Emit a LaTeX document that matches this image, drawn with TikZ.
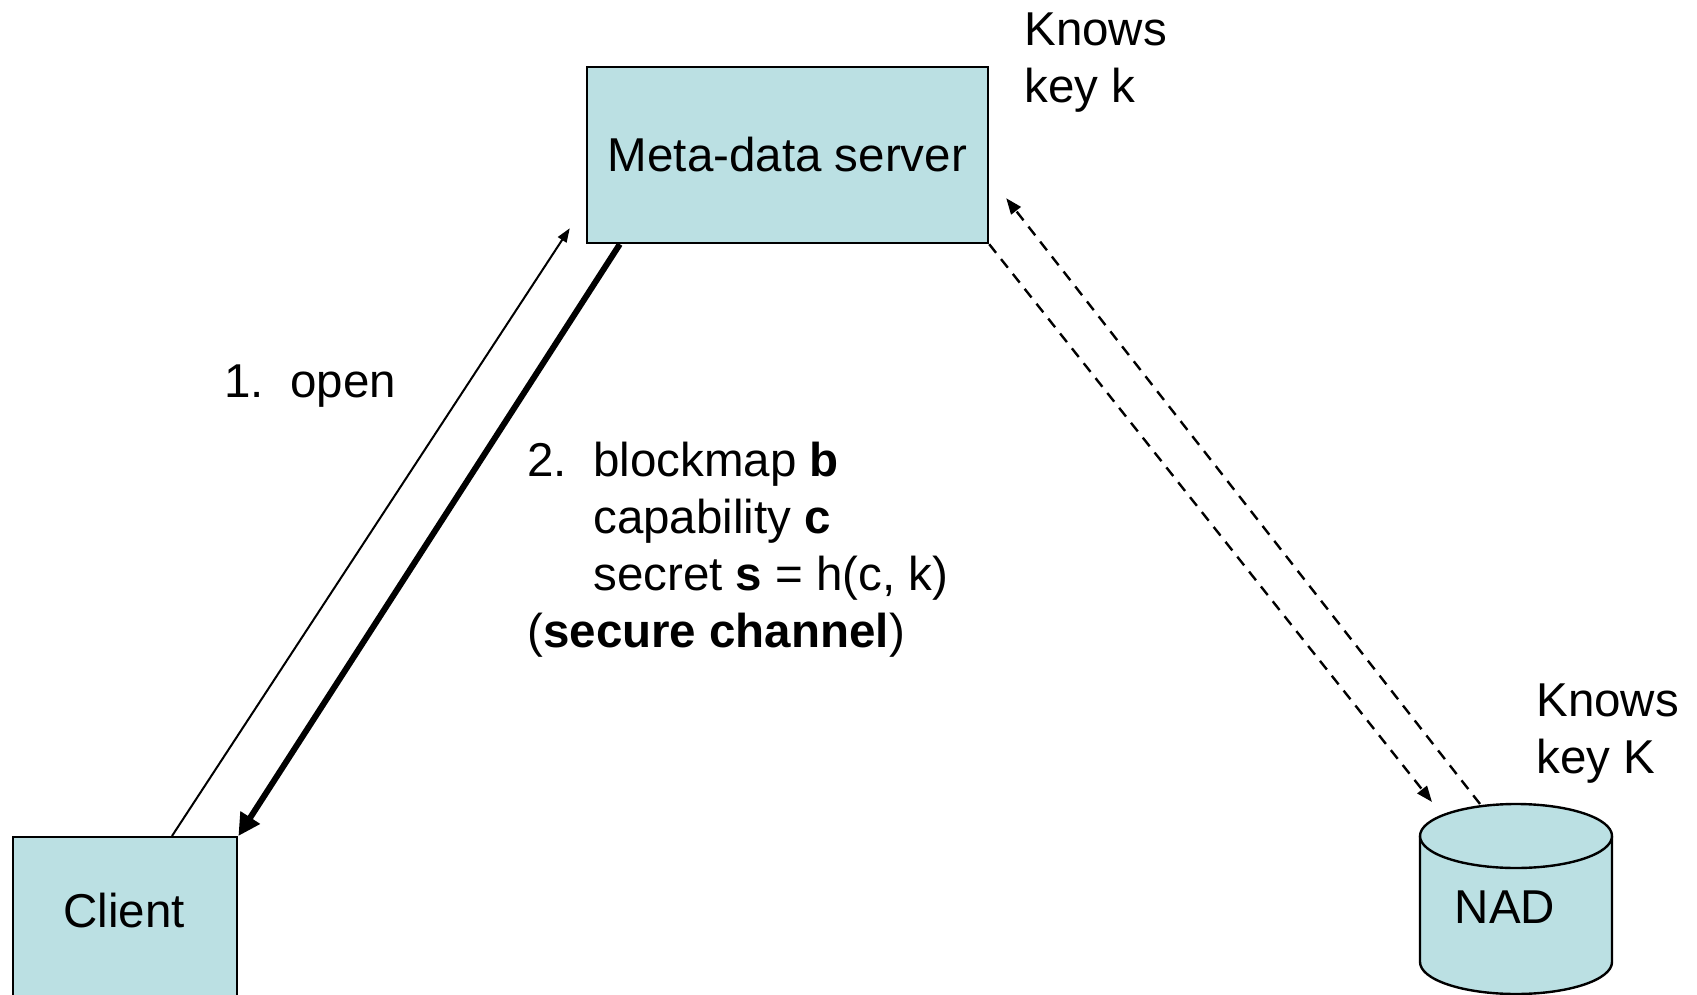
\documentclass[tikz,border=0pt]{standalone}
\usepackage{fontspec}
\setmainfont{Liberation Sans}
\usetikzlibrary{arrows.meta,calc}
\definecolor{boxfill}{RGB}{187,224,227}
\begin{document}
\begin{tikzpicture}[x=0.5pt,y=-0.5pt,
  every node/.style={font=\fontsize{23.75pt}{28.5pt}\selectfont, inner sep=0pt},
  box/.style={draw=black, line width=1.2pt, fill=boxfill},
  txt/.style={anchor=base west, align=left},
  plainarrow/.style={line width=1pt, -{Triangle[length=7pt,width=5pt]}},
  heavyarrow/.style={line width=3pt, -{Triangle[length=11pt,width=11pt]}},
  keyarrow/.style={line width=1.2pt, dash pattern=on 5.5pt off 4pt, -{Triangle[length=8pt,width=6pt]}}]
\path[use as bounding box] (0,0) rectangle (1697,995);
\clip (0,0) rectangle (1697,995);

% boxes
\node[box, minimum width=200.5pt, minimum height=88pt] (meta) at (787.5,155) {Meta-data server};
\node[box, minimum width=112pt, minimum height=85pt, anchor=north west] (client) at (12,836) {};
\node[anchor=base] (clientname) at (124,927) {Client};

% network attached disk
\draw[box] (1420,836) -- (1420,962) arc[start angle=180, end angle=0, x radius=96, y radius=32] -- (1612,836);
\draw[box] (1516,836) ellipse[x radius=96, y radius=32];
\node[anchor=base] (nad) at (1505,923) {NAD};
\coordinate (nadtop) at (1516,804);

% client <-> meta-data server
\coordinate (openfrom) at ([shift={(160,0)}]client.north west);
\coordinate (opento) at ([shift={(-16,-16)}]meta.south west);
\coordinate (replyfrom) at ([shift={(34,0)}]meta.south west);
\draw[plainarrow] (openfrom) -- (opento);
\draw[heavyarrow] (replyfrom) -- (client.north east);

% meta-data server <-> NAD
\coordinate (toNAD) at ([shift={(-84,-2)}]nadtop);
\coordinate (fromNAD) at ([shift={(-36,0)}]nadtop);
\coordinate (toMeta) at ([shift={(17,-46)}]meta.south east);
\draw[keyarrow] (meta.south east) -- (toNAD);
\draw[keyarrow] (fromNAD) -- (toMeta);

% labels (multi-line nodes are placed by the baseline of their last line)
\node[txt] (kmeta) at (1024,103) {Knows\\key k};
\node[txt] (knad) at (1536,773) {Knows\\key K};
\node[txt] (step1) at (224,397) {\makebox[33pt][l]{1.}open};
\node[txt] (step2) at (527,647) {\makebox[33pt][l]{2.}blockmap \textbf{b}\\
  \hspace*{33pt}capability \textbf{c}\\
  \hspace*{33pt}secret \textbf{s} = h(c, k)\\
  (\textbf{secure channel})};
\end{tikzpicture}
\end{document}
